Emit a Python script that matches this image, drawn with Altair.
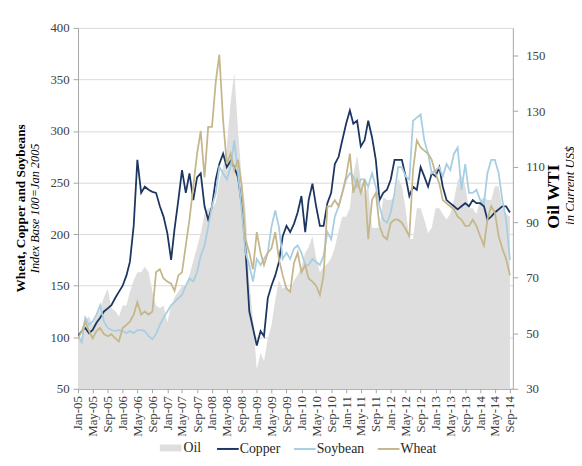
import altair as alt
import pandas as pd

# ---------------- data (monthly, Jan-05 .. Sep-14) ----------------
months = pd.date_range("2005-01-01", "2014-09-01", freq="MS").strftime("%Y-%m-%dT00:00:00").tolist()

copper = [
    101, 106, 109, 104, 107, 114, 119, 125, 128, 131, 138, 144,
    150, 160, 173, 208, 272, 240, 246, 243, 241, 240, 227, 217,
    201, 175, 205, 233, 262, 240, 259, 233, 255, 259, 227, 214,
    227, 253, 268, 278, 265, 271, 265, 255, 227, 185, 125, 109,
    92, 106, 101, 138, 150, 160, 173, 198, 208, 202, 210, 221,
    237, 202, 233, 249, 227, 208, 208, 230, 240, 268, 275, 291,
    307, 320, 307, 310, 285, 291, 310, 294, 272, 233, 240, 243,
    253, 272, 272, 272, 256, 237, 246, 243, 265, 256, 246, 259,
    256, 265, 246, 233, 230, 227, 224, 227, 230, 227, 233, 230,
    230, 227, 214, 217, 221, 224, 227, 227, 221,
]
soybean = [
    101, 95, 119, 112, 115, 122, 131, 115, 109, 107, 106, 107,
    106, 104, 106, 104, 107, 107, 106, 101, 98, 103, 112, 119,
    125, 131, 134, 138, 141, 150, 157, 154, 163, 179, 189, 207,
    227, 240, 265, 259, 253, 265, 291, 259, 221, 182, 170, 154,
    176, 170, 176, 182, 207, 223, 207, 176, 182, 176, 186, 189,
    182, 170, 170, 176, 173, 170, 179, 202, 195, 217, 227, 240,
    253, 259, 256, 246, 253, 253, 246, 259, 246, 227, 214, 211,
    221, 240, 265, 265, 256, 253, 310, 313, 316, 291, 278, 259,
    262, 265, 256, 268, 262, 278, 284, 243, 268, 240, 240, 243,
    233, 230, 259, 272, 272, 259, 233, 214, 175,
]
wheat = [
    99, 106, 115, 106, 99, 106, 109, 103, 101, 103, 99, 96,
    109, 112, 115, 122, 134, 122, 125, 122, 125, 163, 166, 157,
    154, 152, 145, 160, 163, 189, 214, 246, 278, 300, 255, 304,
    304, 348, 374, 310, 268, 278, 262, 272, 246, 195, 182, 166,
    202, 182, 170, 182, 186, 202, 176, 160, 147, 144, 172, 182,
    163, 170, 157, 154, 150, 141, 160, 227, 227, 233, 227, 240,
    256, 278, 240, 253, 240, 253, 195, 233, 240, 208, 198, 195,
    211, 214, 214, 211, 205, 198, 262, 291, 284, 281, 278, 272,
    259, 249, 233, 230, 227, 224, 217, 214, 208, 208, 214, 208,
    198, 189, 214, 227, 221, 198, 186, 176, 160,
]
oil = [
    48, 49, 55, 56, 53, 56, 59, 63, 66, 59, 58, 56,
    60, 60, 65, 69, 72, 72, 74, 72, 65, 60, 59, 60,
    54, 60, 63, 65, 67, 67, 71, 76, 81, 86, 93, 95,
    95, 97, 105, 110, 117, 133, 144, 123, 105, 95, 69, 55,
    37, 43, 40, 48, 53, 62, 69, 66, 67, 65, 69, 71,
    74, 79, 81, 85, 77, 72, 74, 75, 77, 81, 87, 92,
    92, 95, 107, 114, 105, 100, 103, 88, 88, 88, 99, 98,
    98, 99, 106, 103, 95, 84, 84, 95, 95, 91, 86, 88,
    95, 95, 93, 91, 93, 98, 105, 107, 103, 95, 95, 93,
    98, 99, 98, 98, 103, 103, 95, 93, 92,
]

line_names = ["Copper", "Soybean", "Wheat"]
line_colors = ["#1c3661", "#a8cee2", "#c5b78c"]
oil_name = "Oil"
oil_color = "#dedede"

left_ticks = [50, 100, 150, 200, 250, 300, 350, 400]
right_ticks = [30, 50, 70, 90, 110, 130, 150]
tick_months = pd.date_range("2005-01-01", "2014-09-01", freq="4MS")

left_title = "Wheat, Copper and Soybeans"
left_sub = "Index Base 100=Jan 2005"
right_title = "Oil WTI"
right_sub = "in Current US$"

# ---------------- frames ----------------
oil_df = pd.DataFrame({"date": months, "value": oil, "series": oil_name})
lines_df = pd.concat(
    [
        pd.DataFrame({"date": months, "value": vals, "series": name, "k": i})
        for i, (name, vals) in enumerate(zip(line_names, [copper, soybean, wheat]))
    ],
    ignore_index=True,
)

FONT = "Liberation Serif"
AX = "#a6a6a6"
LAB = "#404040"

tick_vals = [alt.DateTime(year=int(d.year), month=int(d.month), date=1) for d in tick_months]
xdom = [alt.DateTime(year=2005, month=1, date=1), alt.DateTime(year=2014, month=9, date=25)]

x_enc = alt.X(
    "date:T",
    scale=alt.Scale(domain=xdom),
    axis=alt.Axis(
        values=tick_vals, format="%b-%y", labelAngle=270, title=None, grid=False,
        tickSize=4, labelPadding=3, domainColor=AX, tickColor=AX,
        labelFont=FONT, labelFontSize=13, labelColor=LAB, labelOverlap=False,
        labelFlush=False,
    ),
)

area = alt.Chart(oil_df).mark_area(clip=True, interpolate="linear").encode(
    x=x_enc,
    y=alt.Y(
        "value:Q",
        scale=alt.Scale(domain=[30, 160], zero=False, nice=False),
        axis=alt.Axis(
            orient="right", values=right_ticks, title=None, grid=False,
            tickSize=5, labelPadding=8, domainColor=AX, tickColor=AX,
            labelFont=FONT, labelFontSize=13, labelColor=LAB,
        ),
    ),
    fill=alt.Fill(
        "series:N",
        scale=alt.Scale(domain=[oil_name], range=[oil_color]),
        legend=alt.Legend(
            orient="none", legendX=83, legendY=415, direction="horizontal",
            title=None, symbolType="M-1,-0.32H1V0.32H-1Z", symbolSize=484,
            symbolStrokeWidth=0, labelFont=FONT, labelFontSize=14,
            labelColor="#262626", labelOffset=2, padding=0,
        ),
    ),
)

lines = alt.Chart(lines_df).mark_line(clip=True, strokeWidth=1.8).encode(
    x=x_enc,
    y=alt.Y(
        "value:Q",
        scale=alt.Scale(domain=[50, 400], zero=False, nice=False),
        axis=alt.Axis(
            orient="left", values=left_ticks, title=None, grid=True,
            gridColor="#d9d9d9", gridWidth=1, tickSize=5, labelPadding=4,
            domainColor=AX, tickColor=AX, labelFont=FONT, labelFontSize=13,
            labelColor=LAB,
        ),
    ),
    color=alt.Color(
        "series:N",
        scale=alt.Scale(domain=line_names, range=line_colors),
        legend=alt.Legend(
            orient="none", legendX=140, legendY=415, direction="horizontal",
            title=None, symbolType="stroke", symbolSize=484, symbolStrokeWidth=2,
            labelFont=FONT, labelFontSize=14, labelColor="#262626",
            labelOffset=0, columnPadding=9, padding=0,
        ),
    ),
    detail="series:N",
    order="k:Q",
)


def label(text, x, y, size, weight="normal", style="normal"):
    return alt.Chart(pd.DataFrame({"t": [text]})).mark_text(
        angle=270, font=FONT, fontSize=size, fontWeight=weight, fontStyle=style,
        color="#000000", align="center", baseline="middle",
    ).encode(x=alt.value(x), y=alt.value(y), text="t:N")


titles = (
    label(left_title, -58, 183, 13.5, weight="bold")
    + label(left_sub, -44, 183, 12.5, style="italic")
    + label(right_title, 483, 171, 18, weight="bold")
    + label(right_sub, 499, 160, 13, style="italic")
)

chart = (
    alt.layer(area, lines, titles)
    .resolve_scale(y="independent")
    .properties(
        width=441, height=366,
        padding={"left": 71, "top": 17, "right": 62, "bottom": 67},
        autosize=alt.AutoSizeParams(type="none"),
        background="#ffffff",
    )
    .configure_view(strokeOpacity=0)
)

chart.save("out.html", embed_options={"renderer": "svg", "actions": False})
